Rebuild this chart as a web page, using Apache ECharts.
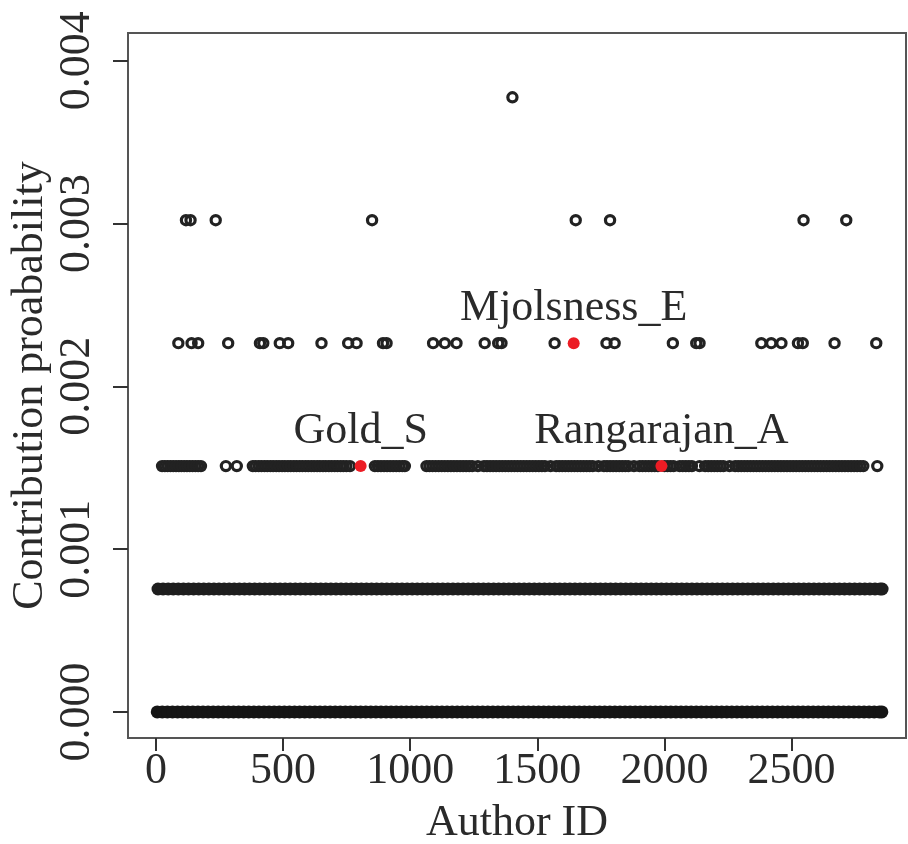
<!DOCTYPE html>
<html>
<head>
<meta charset="utf-8">
<script src="https://cdn.jsdelivr.net/npm/echarts@6/dist/echarts.min.js"></script>
<style>
html,body{margin:0;padding:0;background:#fff;}
#chart{width:908px;height:844px;}
</style>
</head>
<body>
<div id="chart"></div>
<script>
// Probability levels (y values of the rows)
var levels = [0, 0.000755, 0.00151, 0.002265, 0.00302, 0.003775];

// Author IDs found on each level
var idsLevel0 = [5,25,45,65,85,105,125,145,165,185,
  205,225,245,265,285,305,325,345,365,385,
  405,425,445,465,485,505,525,545,565,585,
  605,625,645,665,685,705,725,745,765,785,
  805,825,845,865,885,905,925,945,965,985,
  1005,1025,1045,1065,1085,1105,1125,1145,1165,1185,
  1205,1225,1245,1265,1285,1305,1325,1345,1365,1385,
  1405,1425,1445,1465,1485,1505,1525,1545,1565,1585,
  1605,1625,1645,1665,1685,1705,1725,1745,1765,1785,
  1805,1825,1845,1865,1885,1905,1925,1945,1965,1985,
  2005,2025,2045,2065,2085,2105,2125,2145,2165,2185,
  2205,2225,2245,2265,2285,2305,2325,2345,2365,2385,
  2405,2425,2445,2465,2485,2505,2525,2545,2565,2585,
  2605,2625,2645,2665,2685,2705,2725,2745,2765,2785,
  2805,2825,2845,2855];

var idsLevel1 = [8,28,48,68,88,108,128,148,168,188,
  208,228,248,268,288,308,328,348,368,388,
  408,428,448,468,488,508,528,548,568,588,
  608,628,648,668,688,708,728,748,768,788,
  808,828,848,868,888,908,928,948,968,988,
  1008,1028,1048,1068,1088,1108,1128,1148,1168,1188,
  1208,1228,1248,1268,1288,1308,1328,1348,1368,1388,
  1408,1428,1448,1468,1488,1508,1528,1548,1568,1588,
  1608,1628,1648,1668,1688,1708,1728,1748,1768,1788,
  1808,1828,1848,1868,1888,1908,1928,1948,1968,1988,
  2008,2028,2048,2068,2088,2108,2128,2148,2168,2188,
  2208,2228,2248,2268,2288,2308,2328,2348,2368,2388,
  2408,2428,2448,2468,2488,2508,2528,2548,2568,2588,
  2608,2628,2648,2668,2688,2708,2728,2748,2768,2788,
  2808,2828,2848,2856];

var idsLevel2 = [24,35,46,57,68,79,90,100,111,122,133,144,155,166,177,
  275,318,
  381,392,404,415,427,438,450,461,473,484,496,507,519,530,542,553,565,576,
  588,599,611,622,634,645,657,668,680,691,703,714,726,737,749,763,
  861,873,885,897,909,921,933,945,957,969,979,
  1064,1076,1088,1100,1112,1124,1136,1148,1160,1172,1184,1196,1208,1220,1232,1244,
  1266,1290,1302,1314,1326,1338,1350,1362,1374,1386,1398,1410,1422,1434,1446,
  1458,1470,1482,1494,1506,1518,1530,1552,1574,1586,1598,1610,1622,1634,1646,
  1658,1670,1682,1694,1706,1718,1740,1762,1774,1786,1798,1810,1822,1834,1846,
  1858,1880,1902,1914,1926,1938,1950,1962,1974,2000,2012,2024,2036,
  2060,2072,2084,2096,2108,2138,2160,2172,2184,2196,2208,2220,2232,2256,
  2278,2290,2302,2314,2326,2338,2350,2362,2374,2386,2398,2410,2422,2434,2446,
  2458,2470,2482,2494,2506,2518,2530,2542,2554,2566,2578,2590,2602,2614,2626,
  2638,2650,2662,2674,2686,2698,2710,2722,2734,2746,2758,2770,2782,2837];

var idsLevel3 = [88,140,166,284,409,422,487,520,651,756,789,893,907,1090,1136,
  1182,1293,1346,1359,1568,1772,1804,2033,2125,2138,2381,2420,2460,2525,2544,
  2669,2833];

var idsLevel4 = [118,136,235,850,1651,1786,2547,2715];

var idsLevel5 = [1402];

// Highlighted authors
var highlightNames = ["Gold_S", "Mjolsness_E", "Rangarajan_A"];
var highlightIds = [805, 1643, 1988];
var highlightValues = [0.00151, 0.002265, 0.00151];

// Axis ticks
var xTicks = [0, 500, 1000, 1500, 2000, 2500];
var xTickLabels = ["0", "500", "1000", "1500", "2000", "2500"];
var yTicks = [0, 0.001, 0.002, 0.003, 0.004];
var yTickLabels = ["0.000", "0.001", "0.002", "0.003", "0.004"];

var FONT = "Liberation Serif";
var INK = "#2a2a2a";

function rowData(ids, level) {
  return ids.map(function (id) { return [id, level]; });
}

var openStyle = {
  color: "rgba(0,0,0,0)",
  borderColor: "#222222",
  borderWidth: 3.2,
  opacity: 1
};

var series = [
  { type: "scatter", data: rowData(idsLevel0, levels[0]), symbol: "circle", symbolSize: 13, itemStyle: { color: "#151515", opacity: 1 } },
  { type: "scatter", data: rowData(idsLevel1, levels[1]), symbol: "circle", symbolSize: 13, itemStyle: { color: "#1e1e1e", opacity: 1 } },
  { type: "scatter", data: rowData(idsLevel2, levels[2]), symbol: "circle", symbolSize: 9.2, itemStyle: openStyle },
  { type: "scatter", data: rowData(idsLevel3, levels[3]), symbol: "circle", symbolSize: 9.2, itemStyle: openStyle },
  { type: "scatter", data: rowData(idsLevel4, levels[4]), symbol: "circle", symbolSize: 9.2, itemStyle: openStyle },
  { type: "scatter", data: rowData(idsLevel5, levels[5]), symbol: "circle", symbolSize: 9.2, itemStyle: openStyle },
  {
    type: "scatter",
    symbol: "circle",
    symbolSize: 12,
    itemStyle: { color: "#ec1c24", opacity: 1 },
    data: highlightNames.map(function (n, i) {
      return { name: n, value: [highlightIds[i], highlightValues[i]] };
    }),
    label: {
      show: true,
      position: "top",
      distance: 7,
      formatter: function (p) { return p.name; },
      fontFamily: FONT,
      fontSize: 44,
      color: INK,
      opacity: 1
    }
  }
];
series.forEach(function (s) { s.animation = false; s.silent = true; s.large = false; });

var chart = echarts.init(document.getElementById("chart"), null, { renderer: "canvas" });
chart.setOption({
  animation: false,
  backgroundColor: "#ffffff",
  grid: {
    left: 128, top: 33, right: 2, bottom: 106,
    show: true, borderColor: "#555", borderWidth: 2, backgroundColor: "transparent",
    containLabel: false, outerBoundsMode: "none"
  },
  xAxis: {
    type: "value",
    min: -110, max: 2950,
    name: "Author ID",
    nameLocation: "middle",
    nameGap: 63,
    nameMoveOverlap: false,
    nameTextStyle: { fontFamily: FONT, fontSize: 44, color: INK },
    axisLine: { show: false, onZero: false },
    splitLine: { show: false },
    axisTick: { show: true, length: 13, lineStyle: { color: "#333", width: 2 }, customValues: xTicks },
    axisLabel: {
      customValues: xTicks,
      margin: 11,
      fontFamily: FONT, fontSize: 44, color: INK,
      formatter: function (v) { return xTickLabels[xTicks.indexOf(v)]; }
    }
  },
  yAxis: {
    type: "value",
    min: -0.00016, max: 0.00417,
    name: "Contribution proabability",
    nameLocation: "middle",
    nameGap: 76,
    nameMoveOverlap: false,
    nameTextStyle: { fontFamily: FONT, fontSize: 44, color: INK },
    axisLine: { show: false, onZero: false },
    splitLine: { show: false },
    axisTick: { show: true, length: 15, lineStyle: { color: "#333", width: 2 }, customValues: yTicks },
    axisLabel: {
      customValues: yTicks,
      rotate: 90,
      margin: 29,
      fontFamily: FONT, fontSize: 44, color: INK,
      formatter: function (v) { return yTickLabels[yTicks.indexOf(v)]; }
    }
  },
  series: series
});
</script>
</body>
</html>
